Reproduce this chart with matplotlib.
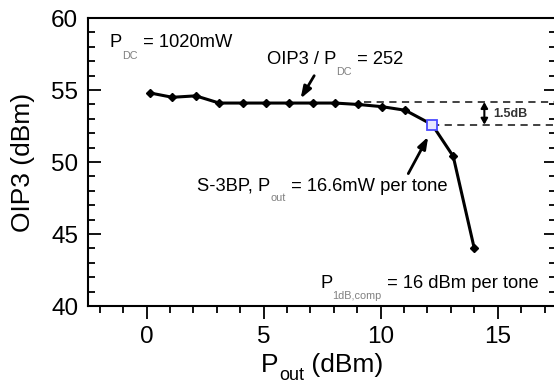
import matplotlib
matplotlib.use("Agg")
import matplotlib.pyplot as plt
from matplotlib.ticker import MultipleLocator

plt.rcParams["font.family"] = ["Liberation Sans", "DejaVu Sans"]

# data
pout = [0.15, 1.1, 2.1, 3.1, 4.1, 5.1, 6.1, 7.1, 8.05, 9.05, 10.05, 11.05, 12.2, 13.1, 14.0]
oip3 = [54.8, 54.5, 54.6, 54.1, 54.1, 54.1, 54.1, 54.1, 54.1, 54.0, 53.85, 53.6, 52.6, 50.4, 44.0]
s3bp_x, s3bp_y = 12.2, 52.6
ref_hi, ref_lo = 54.17, 52.6

fig = plt.figure(figsize=(5.54, 3.85), dpi=100)
ax = fig.add_axes([0.159, 0.205, 0.845, 0.748])

ax.plot(pout, oip3, color="black", lw=2.2, marker="D", ms=4, zorder=3)
ax.plot([s3bp_x], [s3bp_y], marker="s", ms=7, mfc="#e8e8ff", mec="#4a4aff",
        mew=1.3, ls="none", zorder=4)

# 1.5 dB reference lines
ax.plot([9.3, 17.5], [ref_hi, ref_hi], color="#333333", lw=1.3, ls=(0, (4, 3)))
ax.plot([s3bp_x, 17.5], [ref_lo, ref_lo], color="#333333", lw=1.3, ls=(0, (4, 3)))
ax.annotate("", xy=(14.43, ref_lo), xytext=(14.43, ref_hi),
            arrowprops=dict(arrowstyle="<|-|>,head_width=0.2,head_length=0.35",
                            color="black", lw=1.5, shrinkA=0, shrinkB=0))
ax.text(14.8, 53.35, "1.5dB", fontsize=9, fontweight="bold", color="#333333",
        va="center", ha="left")

ax.set_xlim(-2.5, 17.5)
ax.set_ylim(40, 60)
ax.xaxis.set_major_locator(MultipleLocator(5))
ax.xaxis.set_minor_locator(MultipleLocator(1))
ax.yaxis.set_major_locator(MultipleLocator(5))
ax.yaxis.set_minor_locator(MultipleLocator(1))
ax.tick_params(axis="x", which="both", direction="out", top=False, labelsize=17.5, pad=5)
ax.tick_params(axis="y", which="both", direction="in", right=True, labelsize=17.5, pad=7)
ax.tick_params(which="major", length=9, width=1.3)
ax.tick_params(which="minor", length=5, width=1.3)
for sp in ax.spines.values():
    sp.set_linewidth(1.5)


def rich(x, y, parts, coords="data"):
    # parts: (text, size, color, drop in points)
    first = None
    prev = None
    for s, size, color, drop in parts:
        if first is None:
            t = ax.annotate(s, xy=(x, y), xycoords=coords, fontsize=size,
                            color=color, va="baseline", ha="left",
                            annotation_clip=False)
            first = t
        else:
            t = ax.annotate(s, xy=(1, 0), xycoords=(prev, first),
                            xytext=(0, -drop), textcoords="offset points",
                            fontsize=size, color=color, va="bottom", ha="left",
                            annotation_clip=False)
        prev = t
    return first


grey = "#808080"
rich(-1.57, 58.0, [("P", 13.2, "black", 0), ("DC", 7.8, grey, 7), (" = 1020mW", 13.2, "black", 0)])
rich(5.13, 56.8, [("OIP3 / P", 13.2, "black", 0), ("DC", 7.8, grey, 6), (" = 252", 13.2, "black", 0)])
rich(2.16, 48.0, [("S-3BP, P", 13.2, "black", 0), ("out", 7.8, grey, 6),
                  (" = 16.6mW per tone", 13.2, "black", 0)])
rich(7.41, 41.23, [("P", 13.2, "black", 0), ("1dB,comp", 7.8, grey, 6),
                   (" = 16 dBm per tone", 13.2, "black", 0)])

arrow = dict(arrowstyle="-|>,head_width=0.25,head_length=0.7", color="black",
             lw=2, shrinkA=0, shrinkB=0)
ax.annotate("", xy=(6.58, 54.41), xytext=(7.16, 56.0), arrowprops=arrow)
ax.annotate("", xy=(12.03, 51.76), xytext=(11.18, 49.2), arrowprops=arrow)

# axis labels
ax.set_ylabel("OIP3 (dBm)", fontsize=19)
ax.yaxis.set_label_coords(-0.113, 0.5)
rich(0.37, -0.228, [("P", 19, "black", 0), ("out", 13, "black", 5),
                    (" (dBm)", 19, "black", 0)], coords="axes fraction")

fig.savefig("out.png", dpi=100, facecolor="white")
